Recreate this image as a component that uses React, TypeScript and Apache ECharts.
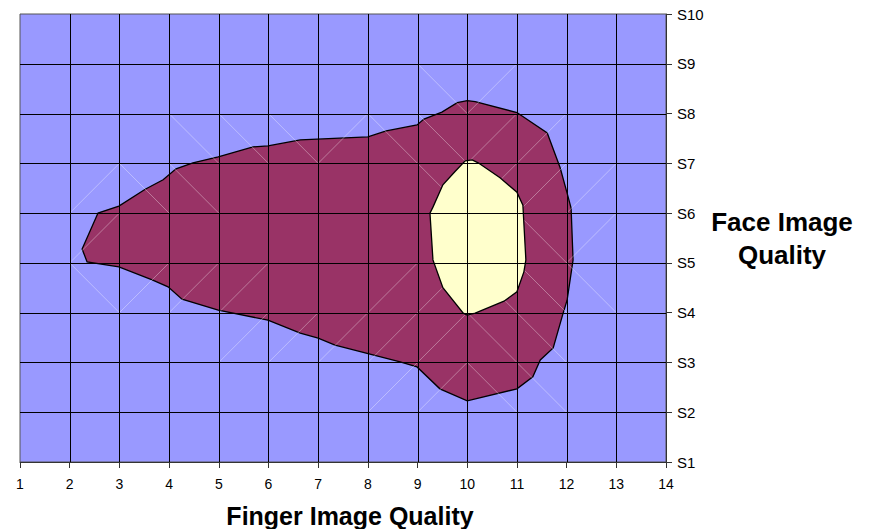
import React, { useEffect, useRef } from "react";
import * as echarts from "echarts";

const xTicks = [1, 2, 3, 4, 5, 6, 7, 8, 9, 10, 11, 12, 13, 14];
const yTickLabels = ["S1", "S2", "S3", "S4", "S5", "S6", "S7", "S8", "S9", "S10"];

// outer contour band (maroon), [finger, face]
const outerContour: [number, number][] = [
  [2.25, 5.28], [2.57, 6.0], [2.99, 6.14], [3.52, 6.48], [3.88, 6.67], [4.14, 6.89],
  [4.48, 7.01], [4.99, 7.13], [5.69, 7.33], [5.99, 7.35], [6.64, 7.47], [8.0, 7.53],
  [8.37, 7.65], [8.99, 7.77], [9.13, 7.89], [9.49, 8.03], [9.8, 8.22], [10.0, 8.26],
  [10.16, 8.24], [11.0, 8.02], [11.61, 7.61], [11.87, 6.91], [12.01, 6.4], [12.09, 6.1],
  [12.13, 5.06], [12.01, 4.25], [11.93, 3.99], [11.73, 3.29], [11.47, 3.05], [11.32, 2.71],
  [11.0, 2.47], [10.0, 2.23], [9.45, 2.47], [8.99, 2.91], [8.65, 3.01], [7.34, 3.35],
  [7.0, 3.49], [6.64, 3.59], [5.99, 3.85], [4.99, 4.05], [4.26, 4.27], [3.98, 4.52],
  [3.66, 4.66], [2.99, 4.92], [2.35, 5.02],
];

// inner contour band (pale yellow), [finger, face]
const innerContour: [number, number][] = [
  [9.96, 7.05], [10.1, 7.07], [10.22, 7.01], [10.66, 6.71], [11.0, 6.42], [11.12, 6.16],
  [11.18, 5.06], [11.14, 4.82], [11.0, 4.42], [10.74, 4.23], [10.16, 3.99], [10.0, 3.95],
  [9.92, 3.99], [9.51, 4.5], [9.31, 5.06], [9.25, 6.0], [9.31, 6.12], [9.51, 6.57],
  [9.75, 6.83],
];

// faint surface-mesh diagonals: [cell left x, cell bottom y, direction (1 = "/", -1 = "\")]
const meshDiagonals: [number, number, number][] = [
  [9, 8, -1], [10, 8, 1],
  [4, 7, -1], [5, 7, -1], [6, 7, -1], [7, 7, 1], [8, 7, -1], [9, 7, -1], [10, 7, 1], [11, 7, 1],
  [2, 6, 1], [3, 6, -1], [4, 6, -1], [9, 6, -1], [10, 6, 1], [11, 6, 1], [12, 6, 1],
  [2, 5, 1], [11, 5, -1], [12, 5, 1],
  [2, 4, -1], [3, 4, 1], [4, 4, 1], [5, 4, 1], [8, 4, 1], [9, 4, 1], [10, 4, -1], [11, 4, -1], [12, 4, -1],
  [5, 3, 1], [6, 3, 1], [7, 3, 1], [8, 3, 1], [9, 3, 1], [10, 3, -1], [11, 3, -1],
  [8, 2, 1], [9, 2, 1], [10, 2, -1], [11, 2, -1],
];

const bandColors = ["#993366", "#FFFFCC"];

// one custom series: outer band, mesh diagonals, inner band, then grid lines on top
const contourSeries = {
  type: "custom",
  silent: true,
  clip: false,
  data: [[xTicks[0], 1]],
  encode: { x: 0, y: 1 },
  renderItem: (params: any, api: any) => {
    const children: any[] = [];
    children.push({
      type: "polygon",
      z2: 1,
      shape: { points: outerContour.map((p) => api.coord(p)) },
      style: { fill: bandColors[0], stroke: "#000000", lineWidth: 1.3 },
    });
    meshDiagonals.forEach(([cx, cy, d]) => {
      const a = api.coord(d > 0 ? [cx, cy] : [cx, cy + 1]);
      const b = api.coord(d > 0 ? [cx + 1, cy + 1] : [cx + 1, cy]);
      children.push({
        type: "line",
        z2: 2,
        shape: { x1: a[0], y1: a[1], x2: b[0], y2: b[1] },
        style: { stroke: "rgba(255,255,255,0.35)", lineWidth: 1 },
      });
    });
    children.push({
      type: "polygon",
      z2: 3,
      shape: { points: innerContour.map((p) => api.coord(p)) },
      style: { fill: bandColors[1], stroke: "#000000", lineWidth: 1.3 },
    });
    for (let i = 1; i < xTicks.length - 1; i++) {
      const a = api.coord([xTicks[i], 1]);
      const b = api.coord([xTicks[i], yTickLabels.length]);
      const xx = Math.round(a[0]) + 0.5;
      children.push({
        type: "line",
        z2: 10,
        shape: { x1: xx, y1: a[1], x2: xx, y2: b[1] },
        style: { stroke: "#000000", lineWidth: 1 },
      });
    }
    for (let j = 2; j < yTickLabels.length; j++) {
      const a = api.coord([xTicks[0], j]);
      const b = api.coord([xTicks[xTicks.length - 1], j]);
      const yy = Math.round(a[1]) + 0.5;
      children.push({
        type: "line",
        z2: 10,
        shape: { x1: a[0], y1: yy, x2: b[0], y2: yy },
        style: { stroke: "#000000", lineWidth: 1 },
      });
    }
    return { type: "group", children };
  },
};

export default function App() {
  const ref = useRef<HTMLDivElement>(null);
  useEffect(() => {
    document.body.style.margin = "0";
    const chart = echarts.init(ref.current!, null, { renderer: "svg" });
    const fam = "Liberation Sans";
    chart.setOption({
      animation: false,
      backgroundColor: "#ffffff",
      grid: {
        left: 20,
        top: 14,
        width: 646,
        height: 448,
        show: true,
        backgroundColor: "#9999FF",
        borderColor: "#555555",
        borderWidth: 1,
      },
      xAxis: {
        type: "value",
        min: xTicks[0],
        max: xTicks[xTicks.length - 1],
        interval: 1,
        axisLine: { show: true, onZero: false, lineStyle: { color: "#333333", width: 1 } },
        axisTick: { show: true, length: 6, lineStyle: { color: "#333333" } },
        axisLabel: { fontSize: 14, color: "#000000", fontFamily: fam, margin: 15 },
        splitLine: { show: false },
      },
      yAxis: {
        type: "value",
        position: "right",
        min: 1,
        max: yTickLabels.length,
        interval: 1,
        axisLine: { show: true, onZero: false, lineStyle: { color: "#333333", width: 1 } },
        axisTick: { show: true, length: 6, lineStyle: { color: "#333333" } },
        axisLabel: {
          fontSize: 15,
          color: "#000000",
          fontFamily: fam,
          margin: 11,
          formatter: (v: number) => yTickLabels[Math.round(v) - 1] ?? "",
        },
        splitLine: { show: false },
      },
      series: [contourSeries],
      graphic: [
        {
          type: "text",
          x: 350,
          y: 516,
          style: {
            text: "Finger Image Quality",
            font: `bold 25px "${fam}"`,
            fill: "#000",
            textAlign: "center",
            textVerticalAlign: "middle",
          },
        },
        {
          type: "text",
          x: 782,
          y: 238,
          style: {
            text: "Face Image\nQuality",
            font: `bold 26px "${fam}"`,
            fill: "#000",
            textAlign: "center",
            textVerticalAlign: "middle",
            lineHeight: 33,
          },
        },
      ],
    });
    return () => chart.dispose();
  }, []);
  return <div ref={ref} style={{ width: 873, height: 529 }} />;
}
